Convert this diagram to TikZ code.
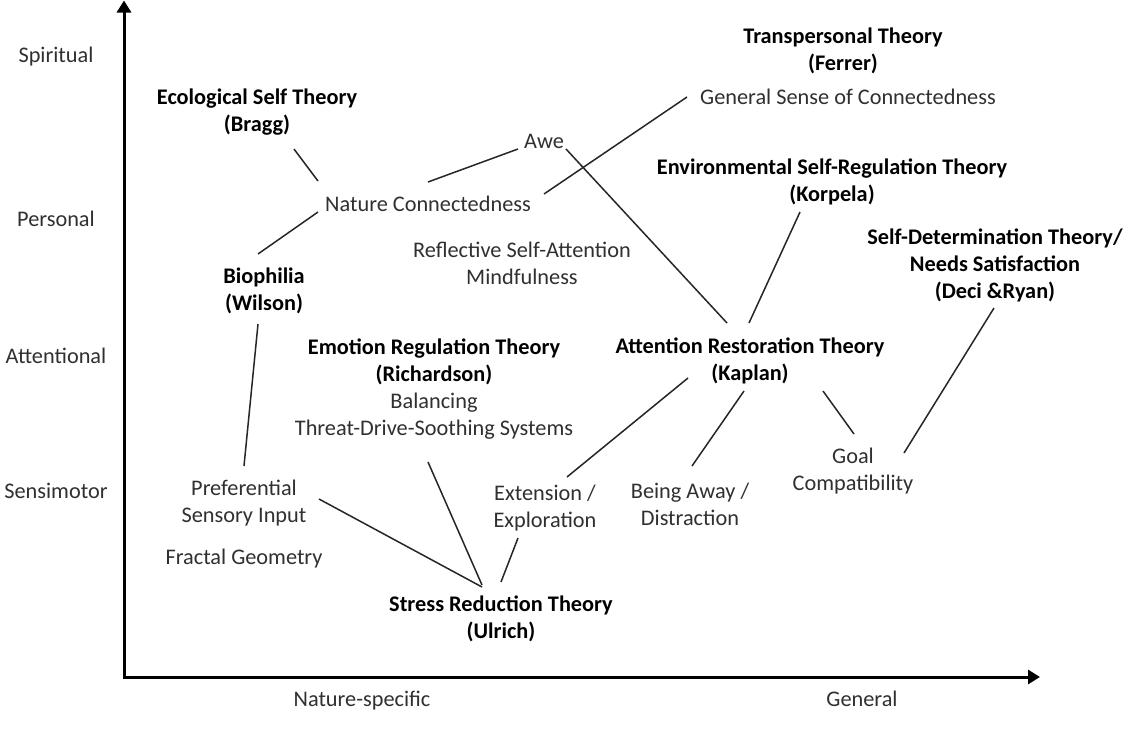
\documentclass[tikz,border=0pt]{standalone}
\usepackage{fontspec}
\setmainfont{Carlito}
\usetikzlibrary{arrows.meta}
\definecolor{txt}{HTML}{303030}
\begin{document}
\begin{tikzpicture}[x=1pt,y=-1pt,
  lbl/.style={font=\fontsize{22.3}{27}\selectfont, text=txt, align=center, inner sep=0pt},
  thy/.style={lbl, font=\fontsize{22.3}{27}\selectfont\bfseries, text=black},
  conn/.style={draw=black!85, line width=1.5pt},
  axisline/.style={line width=3pt, {Triangle[length=12pt,width=14pt]}-{Triangle[length=12pt,width=14pt]}}]
\fill[white] (0,0) rectangle (1125,729);
\useasboundingbox (0,0) rectangle (1125,729);
% axes
\coordinate (ytop) at (124,0.5);
\coordinate (O) at (124,677);
\coordinate (xend) at (1040,677);
\draw[axisline] (ytop) -- (O) -- (xend);
% axis labels
\node[lbl] (spiritual) at (56,57) {Spiritual};
\node[lbl] (personal) at (56,219) {Personal};
\node[lbl] (attentional) at (56,356) {Attentional};
\node[lbl] (sensi) at (56,491) {Sensimotor};
\node[lbl, anchor=base] (natspec) at (362,706) {Nature-specific};
\node[lbl, anchor=base] (general) at (862,706) {General};
% nodes
\node[thy] (bragg) at (257,112) {Ecological Self Theory\\(Bragg)};
\node[lbl] (nat) at (428,204) {Nature Connectedness};
\node[lbl] (awe) at (544,141) {Awe};
\node[lbl] (refl) at (522,263) {Reflective Self-Attention\\Mindfulness};
\node[thy] (bio) at (264,291) {Biophilia\\(Wilson)};
\node[thy] (ferrer) at (843,51) {Transpersonal Theory\\(Ferrer)};
\node[lbl] (gsc) at (848,97) {General Sense of Connectedness};
\node[thy] (korp) at (832,182) {Environmental Self-Regulation Theory\\(Korpela)};
\node[thy] (deci) at (995,265) {Self-Determination Theory/\\Needs Satisfaction\\(Deci \&Ryan)};
\node[lbl] (emo) at (434,389) {\textbf{\color{black}Emotion Regulation Theory}\\\textbf{\color{black}(Richardson)}\\Balancing\\Threat-Drive-Soothing Systems};
\node[thy] (kap) at (750,361) {Attention Restoration Theory\\(Kaplan)};
\node[lbl] (pref) at (244,503) {Preferential\\Sensory Input};
\node[lbl] (fract) at (244,559) {Fractal Geometry};
\node[lbl] (ext) at (545,508) {Extension /\\Exploration};
\node[lbl] (away) at (690,504) {Being Away /\\Distraction};
\node[lbl] (goal) at (853,471) {Goal\\Compatibility};
\node[thy] (ulr) at (501,619) {Stress Reduction Theory\\(Ulrich)};
% connectors
\draw[conn] ([shift={(37,37)}]bragg.center) -- ([shift={(-110,-23)}]nat.center);
\draw[conn] ([shift={(0,-22)}]nat.center) -- ([shift={(-26,8)}]awe.center);
\draw[conn] ([shift={(-110,8)}]nat.center) -- ([shift={(-6,-37)}]bio.center);
\draw[conn] ([shift={(116,-10)}]nat.center) -- ([shift={(-161,0)}]gsc.center);
\draw[conn] ([shift={(22,8)}]awe.center) -- ([shift={(-23,-38)}]kap.center);
\draw[conn] ([shift={(-32,30)}]korp.center) -- ([shift={(-1,-38)}]kap.center);
\draw[conn] ([shift={(-1,43)}]deci.center) -- ([shift={(51,-18)}]goal.center);
\draw[conn] ([shift={(-62,17)}]kap.center) -- ([shift={(22,-31)}]ext.center);
\draw[conn] ([shift={(-6,30)}]kap.center) -- ([shift={(2,-38)}]away.center);
\draw[conn] ([shift={(73,30)}]kap.center) -- ([shift={(1,-37)}]goal.center);
\draw[conn] ([shift={(-6,33)}]bio.center) -- ([shift={(0,-37)}]pref.center);
\draw[conn] ([shift={(75,-4)}]pref.center) -- ([shift={(-19,-32)}]ulr.center);
\draw[conn] ([shift={(-6,73)}]emo.center) -- ([shift={(-19,-34)}]ulr.center);
\draw[conn] ([shift={(-27,30)}]ext.center) -- ([shift={(0,-37)}]ulr.center);
\end{tikzpicture}
\end{document}
